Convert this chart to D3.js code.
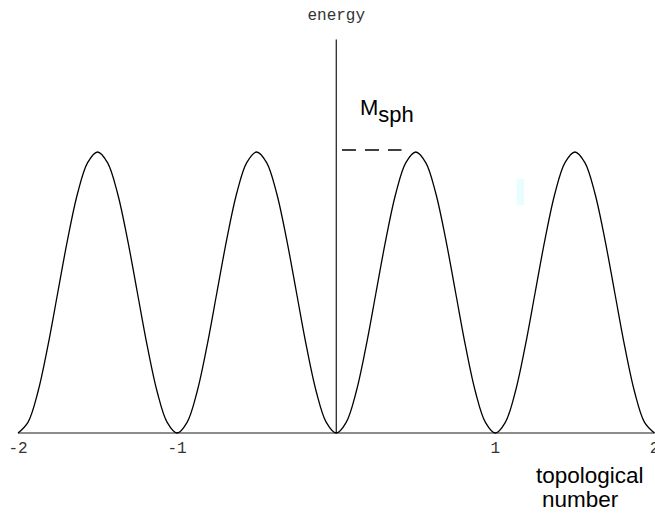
<!DOCTYPE html>
<html>
<head>
<meta charset="utf-8">
<script src="https://cdn.jsdelivr.net/npm/d3@7"></script>
<style>
  html, body { margin: 0; padding: 0; background: #fff; }
  svg { display: block; }
</style>
</head>
<body>
<svg id="chart" width="655" height="516"></svg>
<script>
// Topological number positions, sampled every 1/16
const topoNumber = d3.range(0, 65).map(i => -2 + i / 16);
// Energy along the path (in units of the sphaleron energy)
const energy = [
  0, 0.038, 0.146, 0.309, 0.5, 0.691, 0.854, 0.962, 1, 0.962, 0.854, 0.691, 0.5, 0.309, 0.146, 0.038,
  0, 0.038, 0.146, 0.309, 0.5, 0.691, 0.854, 0.962, 1, 0.962, 0.854, 0.691, 0.5, 0.309, 0.146, 0.038,
  0, 0.038, 0.146, 0.309, 0.5, 0.691, 0.854, 0.962, 1, 0.962, 0.854, 0.691, 0.5, 0.309, 0.146, 0.038,
  0, 0.038, 0.146, 0.309, 0.5, 0.691, 0.854, 0.962, 1, 0.962, 0.854, 0.691, 0.5, 0.309, 0.146, 0.038,
  0
];
const xTicks = [-2, -1, 1, 2];
const xTickLabels = ["-2", "-1", "1", "2"];
const sphaleronEnergy = 1.007;
const sphaleronSpan = [0.036, 0.41];
const energyAxisTop = 1.40;

const svg = d3.select("#chart");

const x = d3.scaleLinear().domain([-2, 2]).range([18, 654.5]);
const y = d3.scaleLinear().domain([0, 1]).range([433, 152]);

const monoFont = "'Liberation Mono', 'Courier New', monospace";
const sansFont = "'Liberation Sans', Arial, Helvetica, sans-serif";

// horizontal axis
svg.append("line")
  .attr("x1", x(-2)).attr("x2", x(2))
  .attr("y1", y(0)).attr("y2", y(0))
  .attr("stroke", "#666").attr("stroke-width", 1.4);

// tick labels
svg.append("g").selectAll("text")
  .data(xTicks)
  .join("text")
  .attr("x", d => x(d))
  .attr("y", y(0) + 20)
  .attr("text-anchor", "middle")
  .attr("font-family", monoFont)
  .attr("font-size", 16)
  .attr("fill", "#333")
  .text((d, i) => xTickLabels[i]);

// vertical energy axis
svg.append("line")
  .attr("x1", x(0)).attr("x2", x(0))
  .attr("y1", y(energyAxisTop)).attr("y2", y(0))
  .attr("stroke", "#000").attr("stroke-width", 1.1);

svg.append("text")
  .attr("x", x(0))
  .attr("y", 20)
  .attr("text-anchor", "middle")
  .attr("font-family", monoFont)
  .attr("font-size", 16)
  .attr("fill", "#333")
  .text("energy");

// energy curve
const pts = topoNumber.map((t, i) => [t, energy[i]]);
svg.append("path")
  .datum(pts)
  .attr("fill", "none")
  .attr("stroke", "#000")
  .attr("stroke-width", 1.3)
  .attr("d", d3.line().x(d => x(d[0])).y(d => y(d[1])).curve(d3.curveCatmullRom));

// sphaleron energy marker
svg.append("line")
  .attr("x1", x(sphaleronSpan[0])).attr("x2", x(sphaleronSpan[1]))
  .attr("y1", y(sphaleronEnergy)).attr("y2", y(sphaleronEnergy))
  .attr("stroke", "#000").attr("stroke-width", 1.6)
  .attr("stroke-dasharray", "14,9");

const msph = svg.append("text")
  .attr("x", 360)
  .attr("y", 115)
  .attr("font-family", sansFont)
  .attr("font-size", 22)
  .attr("fill", "#000");
msph.append("tspan").text("M");
msph.append("tspan").attr("dy", 6.5).text("sph");

// small tinted patch on the right
svg.append("rect")
  .attr("x", x(1.135)).attr("y", y(0.904))
  .attr("width", x(1.18) - x(1.135))
  .attr("height", y(0.811) - y(0.904))
  .attr("fill", "#e8fdfd");

// horizontal axis title
svg.append("text")
  .attr("x", 536).attr("y", 483)
  .attr("font-family", sansFont).attr("font-size", 22.5)
  .attr("fill", "#000")
  .text("topological");
svg.append("text")
  .attr("x", 542).attr("y", 507)
  .attr("font-family", sansFont).attr("font-size", 22.5)
  .attr("fill", "#000")
  .text("number");
</script>
</body>
</html>
